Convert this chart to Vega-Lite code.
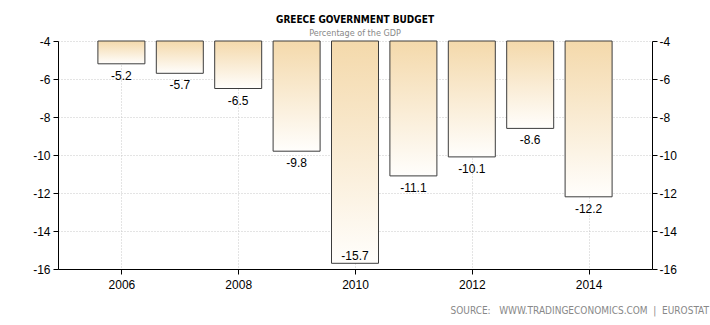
{
  "$schema": "https://vega.github.io/schema/vega-lite/v6.json",
  "width": 594,
  "height": 228,
  "autosize": "none",
  "padding": {"left": 58, "top": 41, "right": 58, "bottom": 56},
  "background": "white",
  "title": {
    "text": "GREECE GOVERNMENT BUDGET",
    "subtitle": "Percentage of the GDP",
    "anchor": "middle",
    "offset": -3,
    "font": "DejaVu Sans Condensed",
    "fontSize": 10,
    "fontWeight": "bold",
    "color": "#000000",
    "subtitleFont": "DejaVu Sans Condensed",
    "subtitleFontSize": 9,
    "subtitleColor": "#888888",
    "subtitlePadding": 4
  },
  "config": {
    "locale": {"number": {"decimal": ".", "thousands": ",", "grouping": [3], "currency": ["$", ""], "minus": "-"}},
    "view": {"stroke": null},
    "axis": {
      "labelFont": "Liberation Sans",
      "labelFontSize": 12,
      "labelColor": "#000000",
      "domainColor": "#000000",
      "tickColor": "#000000",
      "tickSize": 5,
      "gridColor": "#c8c8c8",
      "gridDash": [1, 2]
    }
  },
  "data": {
    "values": [
      {"year": 2006, "v": -5.2},
      {"year": 2007, "v": -5.7},
      {"year": 2008, "v": -6.5},
      {"year": 2009, "v": -9.8},
      {"year": 2010, "v": -15.7},
      {"year": 2011, "v": -11.1},
      {"year": 2012, "v": -10.1},
      {"year": 2013, "v": -8.6},
      {"year": 2014, "v": -12.2}
    ]
  },
  "encoding": {
    "x": {
      "field": "year",
      "type": "quantitative",
      "scale": {"domain": [2005, 2015], "nice": false, "zero": false},
      "axis": {
        "values": [2006, 2008, 2010, 2012, 2014],
        "format": "d",
        "grid": true,
        "labelPadding": 5,
        "title": "SOURCE:\u00a0\u00a0\u00a0WWW.TRADINGECONOMICS.COM\u00a0\u00a0|\u00a0\u00a0EUROSTAT",
        "titleFont": "DejaVu Sans Condensed",
        "titleFontSize": 10,
        "titleFontWeight": "normal",
        "titleColor": "#888888",
        "titleAnchor": "start",
        "titleAlign": "left",
        "titleBaseline": "middle",
        "titleX": 392,
        "titleY": 41
      }
    }
  },
  "layer": [
    {
      "mark": {
        "type": "bar",
        "size": 47,
        "stroke": "#3c3c3c",
        "strokeWidth": 1,
        "color": {
          "gradient": "linear",
          "x1": 0, "y1": 0, "x2": 0, "y2": 1,
          "stops": [
            {"offset": 0, "color": "#f4d9ab"},
            {"offset": 1, "color": "#fffefc"}
          ]
        }
      },
      "encoding": {
        "y": {
          "field": "v",
          "type": "quantitative",
          "scale": {"domain": [-16, -4], "nice": false, "zero": false},
          "axis": {"values": [-4, -6, -8, -10, -12, -14, -16], "grid": true, "title": null, "labelPadding": 3}
        },
        "y2": {"datum": -4}
      }
    },
    {
      "transform": [{"filter": "datum.v > -15"}],
      "mark": {"type": "text", "baseline": "middle", "dy": 12, "font": "Liberation Sans", "fontSize": 12, "color": "#000000"},
      "encoding": {
        "y": {
          "field": "v",
          "type": "quantitative",
          "scale": {"domain": [-16, -4], "nice": false, "zero": false},
          "axis": {"orient": "right", "values": [-4, -6, -8, -10, -12, -14, -16], "grid": false, "title": null, "labelPadding": 2}
        },
        "text": {"field": "v", "type": "quantitative", "format": ".1f"}
      }
    },
    {
      "transform": [{"filter": "datum.v <= -15"}],
      "mark": {"type": "text", "baseline": "middle", "dy": -7, "font": "Liberation Sans", "fontSize": 12, "color": "#000000"},
      "encoding": {
        "y": {
          "field": "v",
          "type": "quantitative",
          "scale": {"domain": [-16, -4], "nice": false, "zero": false},
          "axis": null
        },
        "text": {"field": "v", "type": "quantitative", "format": ".1f"}
      }
    }
  ],
  "resolve": {"axis": {"y": "independent"}}
}
